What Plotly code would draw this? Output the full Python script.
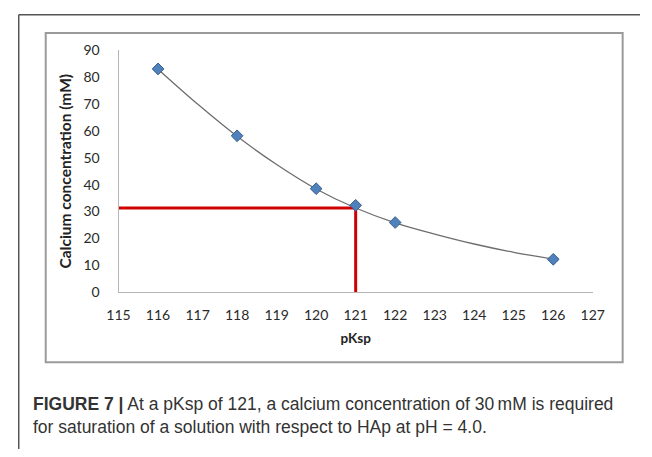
import plotly.graph_objects as go

W, H = 652, 457

# Data: measured points
pksp = [116, 118, 120, 121, 122, 126]
calcium = [83.1, 58.2, 38.5, 32.3, 25.9, 12.2]
# Trend line
trend_x = [116, 117, 118, 119, 120, 121, 122, 123, 124, 125, 126]
trend_y = [83.0, 70.0, 58.0, 47.5, 38.4, 31.3, 25.8, 21.6, 17.9, 14.8, 12.3]
# Red reference lines (pKsp 121 -> ~31 mM)
ref_x = [115, 121, 121]
ref_y = [31.3, 31.3, 0]
x_ticks = list(range(115, 128))
y_ticks = list(range(0, 100, 10))

def px(x):
    return x / W

def py(y):
    return 1 - y / H

fig = go.Figure()

fig.add_trace(go.Scatter(
    x=trend_x, y=trend_y, mode="lines",
    line=dict(color="#6e6e6e", width=1.3, shape="spline", smoothing=1.0),
    hoverinfo="skip", showlegend=False,
))
fig.add_trace(go.Scatter(
    x=ref_x, y=ref_y, mode="lines",
    line=dict(color="#d10000", width=3),
    showlegend=False, cliponaxis=False,
))
fig.add_trace(go.Scatter(
    x=pksp, y=calcium, mode="markers",
    marker=dict(symbol="diamond", size=9, color="#4f81bd",
                line=dict(color="#385d8a", width=1)),
    showlegend=False, cliponaxis=False,
))

tickfont = dict(family="Lato", size=14, color="#2a2a2a")

fig.update_layout(
    width=W, height=H,
    margin=dict(l=0, r=0, t=0, b=0),
    paper_bgcolor="white", plot_bgcolor="white",
    xaxis=dict(
        domain=[px(110.6), px(603)],
        range=[115, 127], tickvals=x_ticks, ticktext=[str(v) for v in x_ticks],
        showgrid=False, zeroline=False, showline=True,
        linecolor="#b5b5b5", linewidth=1, ticks="",
        tickfont=tickfont, ticklabelstandoff=10,
        title=dict(text="pKsp",
                   font=dict(family="Lato", size=13.5, color="#222222", weight="bold"),
                   standoff=11),
    ),
    yaxis=dict(
        domain=[py(294), py(43)],
        range=[0, 90], tickvals=y_ticks, ticktext=[str(v) for v in y_ticks],
        showgrid=False, zeroline=False, showline=True,
        linecolor="#b5b5b5", linewidth=1, ticks="",
        tickfont=tickfont, ticklabelstandoff=15,
        title=dict(text="Calcium concentration (mM)",
                   font=dict(family="Lato", size=15.5, color="#222222", weight="bold"),
                   standoff=8),
    ),
)

# Outer figure frame (top and left edges)
fig.add_shape(type="line", xref="paper", yref="paper",
              x0=px(7), y0=py(6), x1=1.0, y1=py(6),
              line=dict(color="#555555", width=1.5))
fig.add_shape(type="line", xref="paper", yref="paper",
              x0=px(7), y0=py(6), x1=px(7), y1=0,
              line=dict(color="#555555", width=1.5))
# Inner chart box
fig.add_shape(type="rect", xref="paper", yref="paper",
              x0=px(35), y0=py(367), x1=px(634), y1=py(25),
              line=dict(color="#9a9a9a", width=2))

capfont = dict(family="Liberation Sans", size=17.5, color="#333333")
fig.add_annotation(
    xref="paper", yref="paper", x=px(20), y=py(422),
    xanchor="left", yanchor="middle", align="left", showarrow=False,
    text="<b>FIGURE 7 |</b> At a pKsp of 121, a calcium concentration of 30\u2009mM is required"
         "<br>for saturation of a solution with respect to HAp at pH = 4.0.",
    font=capfont,
)

fig.write_html("out.html")
